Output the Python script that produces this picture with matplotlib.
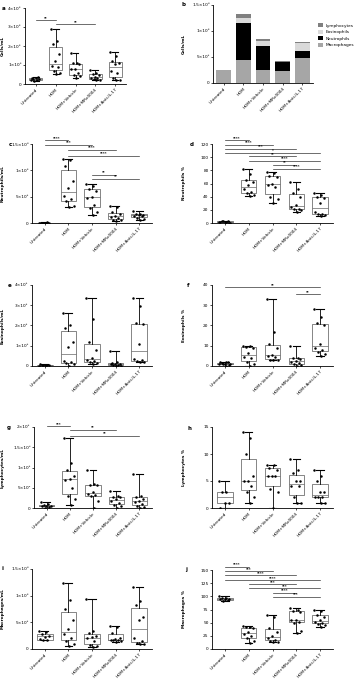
import numpy as np
import matplotlib
matplotlib.use('Agg')
import matplotlib.pyplot as plt

W, H = 361, 685
fig = plt.figure(figsize=(W / 100, H / 100), dpi=100)

groups = ['Untreated', 'HDM', 'HDM+Vehicle', 'HDM+MRx0004', 'HDM+Anti-IL-17']

# a - total cells (x10^6 /mL)
a_vals = [
    [0.2, 0.22, 0.25, 0.27, 0.3, 0.32, 0.35, 0.18],
    [2.88, 2.25, 2.1, 1.57, 1.2, 0.95, 0.9, 0.7, 0.6, 0.53],
    [1.62, 1.1, 1.08, 1.05, 0.8, 0.78, 0.6, 0.45, 0.4, 0.32],
    [0.72, 0.6, 0.52, 0.45, 0.38, 0.33, 0.3, 0.25, 0.22, 0.2],
    [1.7, 1.45, 1.2, 1.12, 1.05, 0.7, 0.6, 0.3, 0.22, 0.2],
]
a_sig = [(0, 1, 3.35, '**'), (1, 3, 3.15, '**')]

# b - stacked composition (x10^6 /mL)
b_macro = [0.245, 0.45, 0.255, 0.235, 0.48]
b_neut = [0.003, 0.70, 0.465, 0.165, 0.145]
b_eos = [0.004, 0.095, 0.09, 0.006, 0.14]
b_lymph = [0.005, 0.077, 0.04, 0.01, 0.015]

# c - neutrophils (x10^6 /mL)
c_vals = [
    [0.002, 0.004, 0.006, 0.003, 0.008, 0.005, 0.01, 0.002],
    [1.22, 1.19, 1.09, 0.79, 0.66, 0.52, 0.45, 0.41, 0.33, 0.3],
    [0.75, 0.7, 0.65, 0.6, 0.5, 0.48, 0.35, 0.28, 0.2, 0.16],
    [0.33, 0.3, 0.2, 0.18, 0.14, 0.12, 0.1, 0.06, 0.05, 0.04],
    [0.22, 0.18, 0.17, 0.16, 0.15, 0.14, 0.13, 0.1, 0.07, 0.06],
]
c_sig = [(0, 1, 1.57, '****'), (0, 2, 1.49, '***'), (1, 3, 1.39, '****'),
         (1, 4, 1.28, '****'), (2, 3, 0.92, '**'), (2, 4, 0.84, '**')]

# d - neutrophils %
d_vals = [
    [1, 2, 3, 0.5, 2, 1.5, 3, 2.5, 0, 1],
    [82, 75, 66, 63, 57, 52, 47, 45, 43, 41],
    [78, 76, 72, 70, 60, 57, 55, 40, 37, 31],
    [62, 52, 46, 40, 28, 25, 22, 21, 19, 17],
    [46, 43, 40, 38, 30, 16, 14, 13, 12, 10],
]
d_sig = [(0, 1, 125.6, '****'), (0, 2, 119, '****'), (0, 3, 113, '***'),
         (0, 4, 107, '*'), (1, 3, 101.8, '**'), (1, 4, 94.7, '****'),
         (2, 3, 88.6, '**'), (2, 4, 82.5, '****')]

# e - eosinophils (x10^5 /mL)
e_vals = [
    [0.02, 0.03, 0.04, 0.05, 0.06, 0.08, 0.03, 0.05],
    [2.6, 2.0, 1.9, 1.2, 0.95, 0.25, 0.2, 0.15, 0.1, 0.0],
    [3.38, 2.3, 1.2, 0.8, 0.4, 0.3, 0.25, 0.2, 0.15, 0.12],
    [0.72, 0.2, 0.15, 0.12, 0.1, 0.08, 0.05, 0.03, 0.02, 0.0],
    [3.35, 2.95, 2.1, 2.05, 1.1, 0.35, 0.3, 0.25, 0.22, 0.2],
]
e_sig = []

# f - eosinophils %
f_vals = [
    [1, 2, 1.5, 0.5, 1, 2, 1.8, 1.2, 0.8, 0],
    [10, 10, 9.5, 9, 6.5, 4.5, 4, 2, 1, 0],
    [33, 17, 11, 9, 5.5, 5, 4.5, 3, 3, 3],
    [10, 4, 4, 3.5, 2.5, 2, 1.5, 1, 0.5, 0],
    [28, 24, 21, 20, 11, 9, 8, 7, 6, 5],
]
f_sig = [(0, 4, 38.8, '**'), (3, 4, 35.5, '**')]

# g - lymphocytes (x10^5 /mL)
g_vals = [
    [0.15, 0.1, 0.07, 0.05, 0.05, 0.04, 0.03, 0.0],
    [1.72, 1.1, 0.95, 0.8, 0.72, 0.7, 0.5, 0.3, 0.22, 0.07],
    [0.95, 0.6, 0.58, 0.57, 0.4, 0.35, 0.32, 0.3, 0.18, 0.0],
    [0.43, 0.3, 0.28, 0.27, 0.22, 0.18, 0.12, 0.08, 0.05, 0.0],
    [0.83, 0.3, 0.28, 0.22, 0.18, 0.15, 0.1, 0.05, 0.02, 0.0],
]
g_sig = [(0, 1, 2.02, '***'), (1, 3, 1.93, '**'), (1, 4, 1.79, '**')]

# h - lymphocytes %
h_vals = [
    [5, 3, 3, 1, 1, 0],
    [14, 13, 10, 6, 5, 5, 4, 3, 2, 1],
    [8, 8, 7.5, 7, 6, 6, 6, 3.5, 3, 0],
    [9, 7, 6.5, 5, 5, 4, 4, 2, 1, 1],
    [7, 6, 5, 3, 3, 2, 2, 2, 1, 1],
]
h_sig = []

# i - macrophages (x10^6 /mL)
i_vals = [
    [0.34, 0.32, 0.28, 0.25, 0.22, 0.18, 0.17, 0.16],
    [1.24, 0.92, 0.75, 0.55, 0.37, 0.28, 0.2, 0.15, 0.1, 0.06],
    [0.93, 0.33, 0.3, 0.25, 0.22, 0.2, 0.15, 0.08, 0.05, 0.04],
    [0.43, 0.41, 0.3, 0.2, 0.18, 0.17, 0.16, 0.16, 0.15, 0.14],
    [1.17, 0.9, 0.83, 0.6, 0.55, 0.2, 0.15, 0.12, 0.1, 0.1],
]
i_sig = []

# j - macrophages %
j_vals = [
    [100, 97, 96, 95, 95, 94, 93, 92],
    [44, 42, 41, 40, 32, 28, 25, 20, 15, 12],
    [65, 60, 40, 33, 25, 20, 18, 16, 14, 13],
    [77, 75, 72, 70, 56, 55, 52, 50, 35, 30],
    [75, 72, 65, 60, 55, 52, 50, 48, 45, 42],
]
j_sig = [(0, 1, 156, '****'), (0, 2, 148, '***'), (0, 3, 140, '****'),
         (0, 4, 131, '****'), (1, 3, 123, '***'), (1, 4, 115, '***'),
         (2, 3, 107, '****'), (2, 4, 99.6, '***')]

FS = 3.1


def make_ax(left, right, top, bottom):
    ax = fig.add_axes([left / W, 1 - bottom / H, (right - left) / W, (bottom - top) / H])
    ax._px = (left, right)
    for s in ('top', 'right'):
        ax.spines[s].set_visible(False)
    for s in ('left', 'bottom'):
        ax.spines[s].set_linewidth(0.6)
    ax.tick_params(length=1.5, width=0.5, pad=1, labelsize=FS)
    return ax


def finish_x(ax):
    ax.set_xlim(0.45, 5.55)
    ax.set_xticks(range(1, 6))
    ax.set_xticklabels(groups, rotation=45, ha='right', rotation_mode='anchor', fontsize=FS)


def set_ylab(ax, text, xpx=5):
    ax.set_ylabel(text, fontsize=FS, fontweight='bold')
    left, right = ax._px
    ax.yaxis.set_label_coords((xpx - left) / (right - left), 0.5)


def box_panel(ax, vals, sigs, ylim, yticks, yticklabels, ylabel, letter, lx, ly):
    pos = np.arange(1, 6)
    ax.boxplot(vals, positions=pos, widths=0.65, whis=(0, 100), showfliers=False,
               patch_artist=True, capwidths=0.3,
               boxprops=dict(facecolor='white', edgecolor='#555555', linewidth=0.5),
               medianprops=dict(color='#666666', linewidth=0.5),
               whiskerprops=dict(color='black', linewidth=0.6),
               capprops=dict(color='black', linewidth=0.8))
    for p, v in zip(pos, vals):
        n = len(v)
        offs = ((np.arange(n) * 0.618) % 1 - 0.5) * 0.5
        ax.scatter(p + offs, v, s=3.2, color='black', zorder=3, linewidths=0)
    finish_x(ax)
    ax.set_ylim(*ylim)
    ax.set_yticks(yticks)
    ax.set_yticklabels(yticklabels, fontsize=FS)
    set_ylab(ax, ylabel, 5 if ax._px[0] < 100 else 186)
    for g1, g2, y, txt in sigs:
        ax.plot([g1 + 1, g2 + 1], [y, y], color='#333333', lw=0.5, clip_on=False)
        ax.text((g1 + g2) / 2 + 1, y, txt, ha='center', va='bottom', fontsize=2.6,
                fontweight='bold', clip_on=False)
    fig.text(lx / W, 1 - ly / H, letter, fontsize=4, fontweight='bold', va='center')


# panel a
ax = make_ax(25, 126, 8, 84)
box_panel(ax, a_vals, a_sig, (0, 4), [0, 1, 2, 3, 4],
          ['0', '1×10⁶', '2×10⁶', '3×10⁶', '4×10⁶'], 'Cells/mL', 'a', 2, 8)

# panel b
ax = make_ax(213, 313, 5, 83)
pos = np.arange(1, 6)
bottom = np.zeros(5)
cols = {'Macrophages': '#a6a6a6', 'Neutrophils': '#000000',
        'Eosinophils': '#d9d9d9', 'Lymphocytes': '#808080'}
handles = {}
for name, vals in [('Macrophages', b_macro), ('Neutrophils', b_neut),
                   ('Eosinophils', b_eos), ('Lymphocytes', b_lymph)]:
    handles[name] = ax.bar(pos, vals, 0.75, bottom=bottom, color=cols[name], linewidth=0)
    bottom = bottom + np.array(vals)
finish_x(ax)
ax.set_ylim(0, 1.5)
ax.set_yticks([0, 0.5, 1.0, 1.5])
ax.set_yticklabels(['0', '5×10⁵', '1×10⁶', '1.5×10⁶'], fontsize=FS)
set_ylab(ax, 'Cells/mL', 186)
order = ['Lymphocytes', 'Eosinophils', 'Neutrophils', 'Macrophages']
fig.legend([handles[k] for k in order], order, loc='upper left',
           bbox_to_anchor=(316 / W, 1 - 21 / H), frameon=False, fontsize=FS,
           handlelength=1.2, handleheight=1.0, handletextpad=0.6, labelspacing=0.5,
           borderpad=0)
fig.text(182 / W, 1 - 5 / H, 'b', fontsize=4, fontweight='bold', va='center')

# panel c, d
ax = make_ax(32, 152, 144, 223)
box_panel(ax, c_vals, c_sig, (0, 1.5), [0, 0.5, 1.0, 1.5],
          ['0', '5×10⁵', '1×10⁶', '1.5×10⁶'], 'Neutrophils/mL', 'c', 9, 145)
ax = make_ax(212, 333, 144, 223)
box_panel(ax, d_vals, d_sig, (0, 120), range(0, 121, 20),
          [str(t) for t in range(0, 121, 20)], 'Neutrophils %', 'd', 190, 145)

# panel e, f
ax = make_ax(32, 152, 285, 366)
box_panel(ax, e_vals, e_sig, (0, 4), [0, 1, 2, 3, 4],
          ['0', '1×10⁵', '2×10⁵', '3×10⁵', '4×10⁵'], 'Eosinophils/mL', 'e', 8, 285)
ax = make_ax(212, 333, 285, 366)
box_panel(ax, f_vals, f_sig, (0, 40), range(0, 41, 10),
          [str(t) for t in range(0, 41, 10)], 'Eosinophils %', 'f', 187, 285)

# panel g, h
ax = make_ax(34, 152, 427, 508)
box_panel(ax, g_vals, g_sig, (0, 2), [0, 0.5, 1.0, 1.5, 2.0],
          ['0', '5×10⁴', '1×10⁵', '1.5×10⁵', '2×10⁵'], 'Lymphocytes/mL', 'g', 7, 427)
ax = make_ax(212, 333, 427, 508)
box_panel(ax, h_vals, h_sig, (0, 15), [0, 5, 10, 15],
          ['0', '5', '10', '15'], 'Lymphocytes %', 'h', 187, 428)

# panel i, j
ax = make_ax(32, 152, 569, 649)
box_panel(ax, i_vals, i_sig, (0, 1.5), [0, 0.5, 1.0, 1.5],
          ['0', '5×10⁵', '1×10⁶', '1.5×10⁶'], 'Macrophages/mL', 'i', 2, 569)
ax = make_ax(212, 333, 570, 649)
box_panel(ax, j_vals, j_sig, (0, 150), range(0, 151, 25),
          [str(t) for t in range(0, 151, 25)], 'Macrophages %', 'j', 185, 570)

fig.savefig('out.png', dpi=100)
